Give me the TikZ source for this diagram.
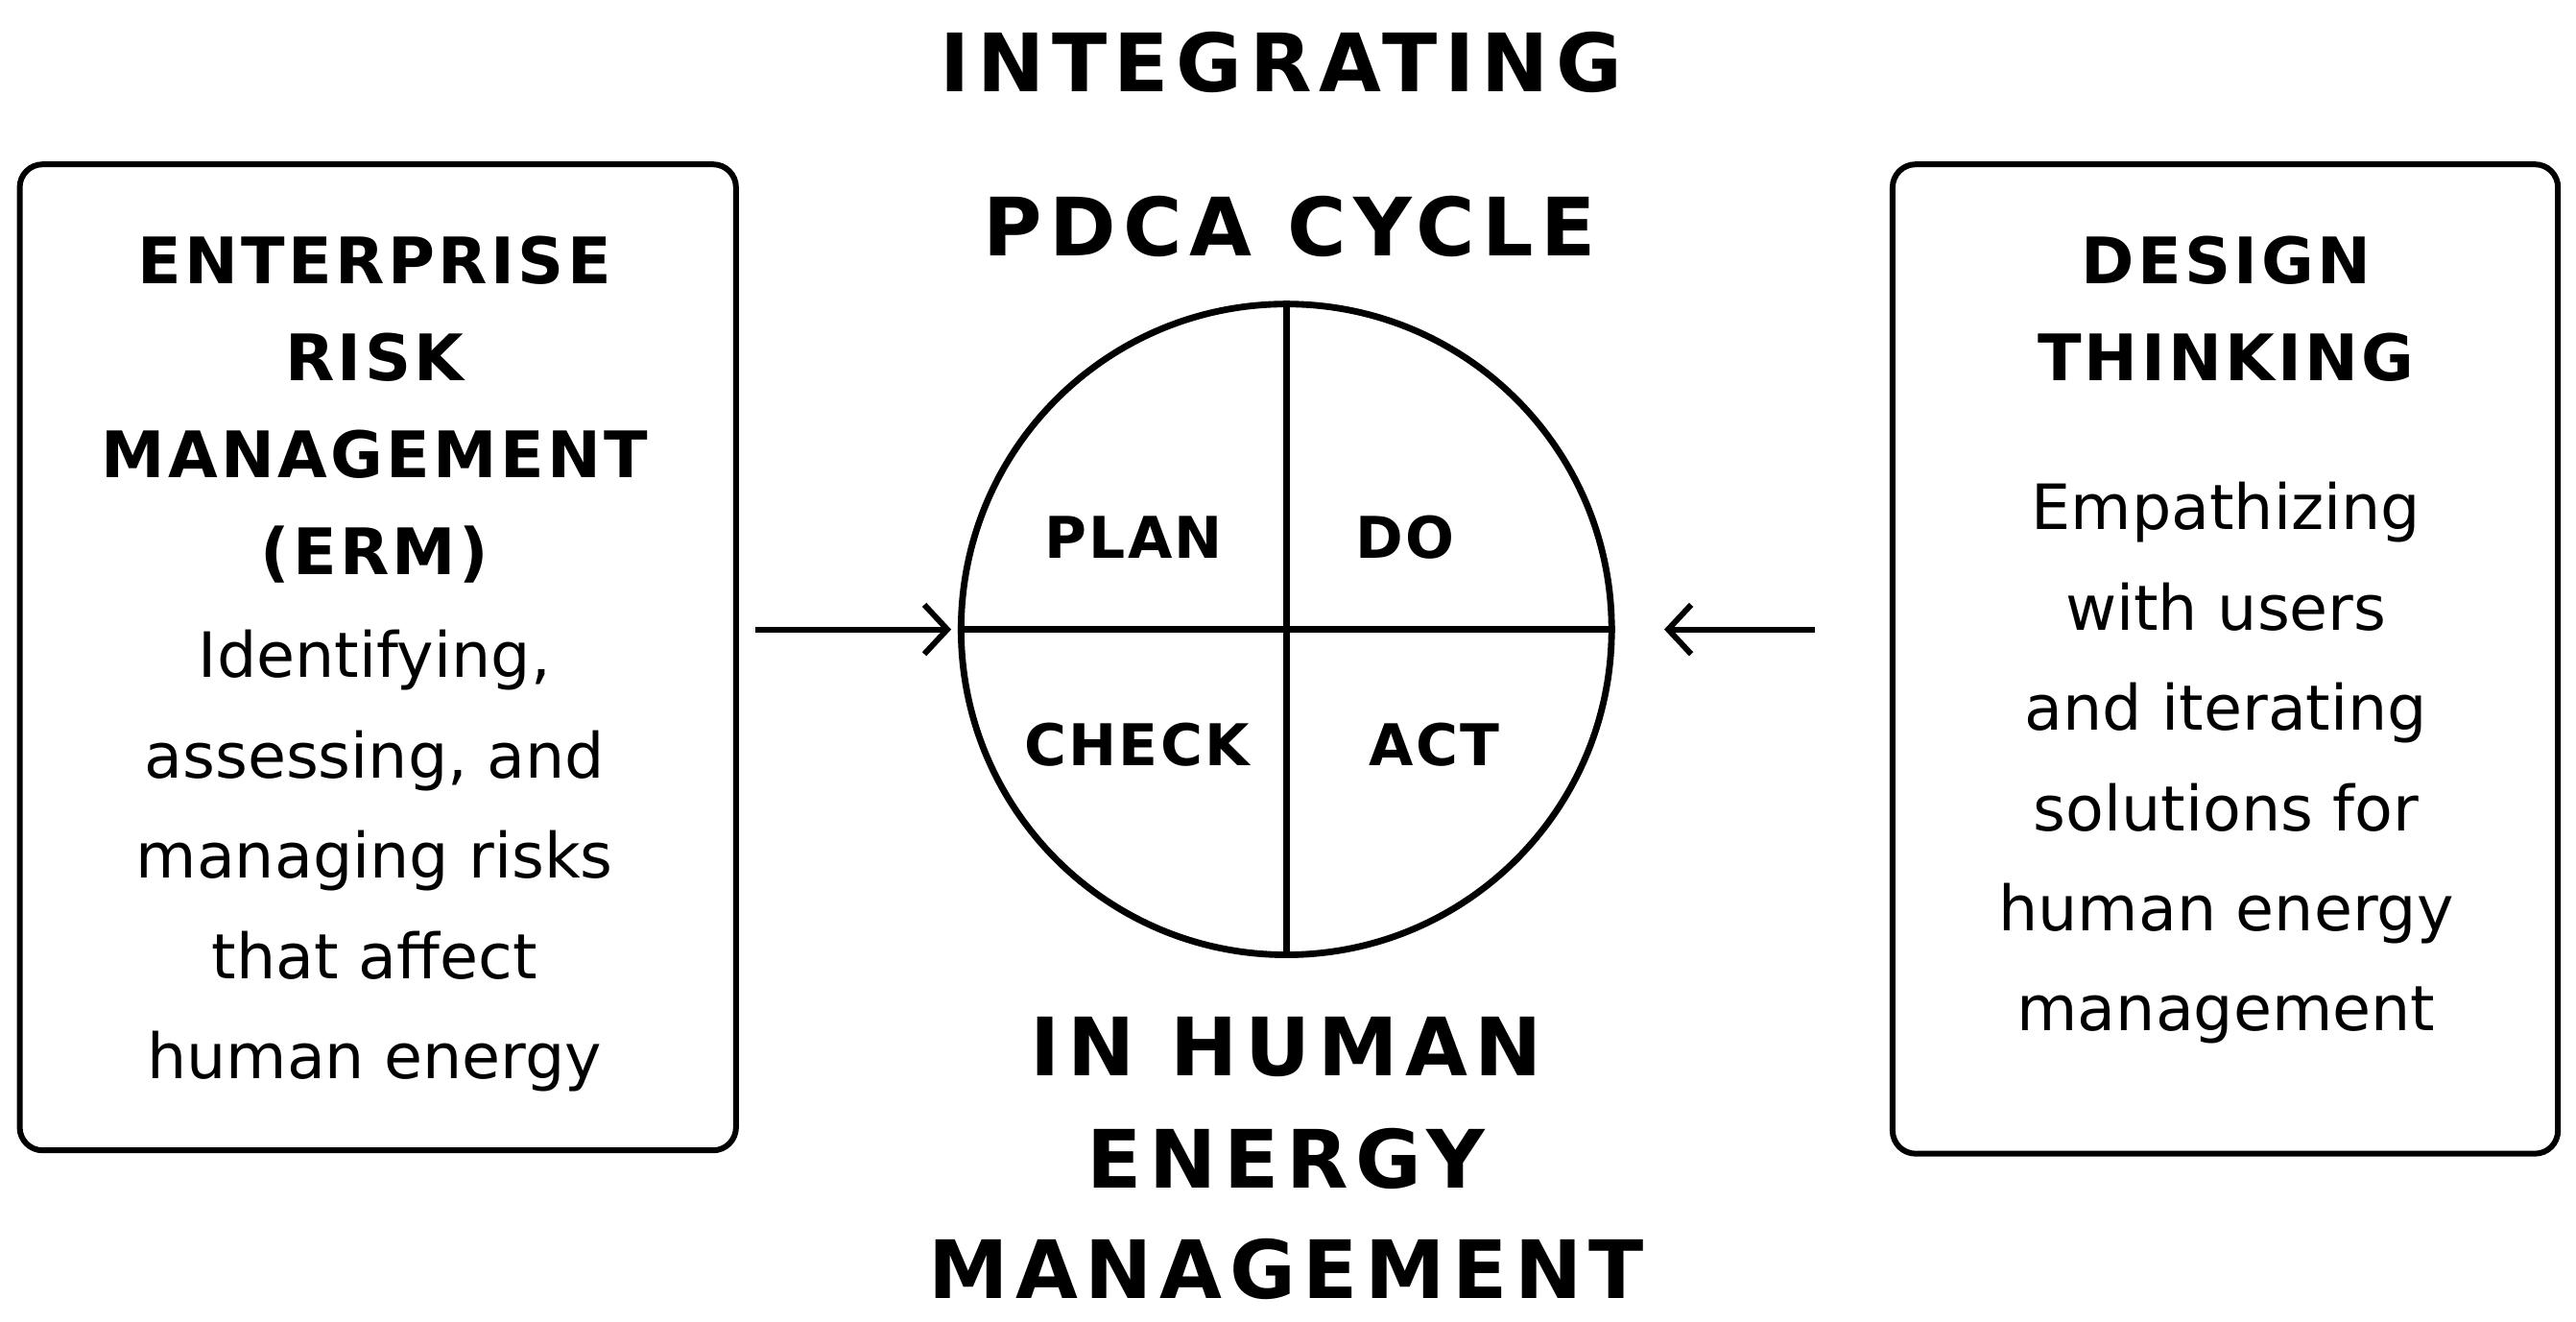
\documentclass[tikz,border=0pt]{standalone}
\usepackage{fontspec}
\setmainfont{DejaVu Sans}
\usetikzlibrary{arrows.meta}
\begin{document}
\begin{tikzpicture}[x=1pt,y=-1pt,
  box/.style={draw,line width=3.5pt,rounded corners=14pt},
  hd/.style={font=\fontsize{49}{60}\selectfont\bfseries\addfontfeatures{LetterSpace=9}},
  bh/.style={font=\fontsize{39}{59}\selectfont\bfseries\addfontfeatures{LetterSpace=5},align=center},
  bt/.style={font=\fontsize{38}{61}\selectfont,align=center},
  q/.style={font=\fontsize{35}{40}\selectfont\bfseries\addfontfeatures{LetterSpace=4}},
  arr/.style={line width=3.5pt,-{Straight Barb[length=14pt,width=30pt,line width=3.5pt]}}]
\useasboundingbox (0,0) rectangle (1568,804);
\node[hd] (t1) at (780,38) {INTEGRATING};
\node[hd] (t2) at (785,138) {PDCA CYCLE};
\node[hd] (b1) at (783,637) {IN HUMAN};
\node[hd] (b2) at (783,705) {ENERGY};
\node[hd] (b3) at (783,772) {MANAGEMENT};
\draw[box] (12,100) rectangle (448,700);
\draw[box] (1152,100) rectangle (1557,702);
\node[bh,anchor=north] (lh) at (228,140) {ENTERPRISE\\RISK\\MANAGEMENT\\(ERM)};
\node[bt,anchor=north] (lt) at (228,380) {Identifying,\\assessing, and\\managing risks\\that affect\\human energy};
\node[bh,anchor=north] (rh) at (1355,140) {DESIGN\\THINKING};
\node[bt,anchor=north] (rt) at (1355,290) {Empathizing\\with users\\and iterating\\solutions for\\human energy\\management};
\node[draw,circle,line width=4pt,minimum size=396pt,inner sep=0] (c) at (783,383) {};
\draw[line width=4pt] (c.north) -- (c.south);
\draw[line width=4pt] (c.west) -- (c.east);
\node[q] (p) at (690,327) {PLAN};
\node[q] (d) at (855,327) {DO};
\node[q] (ch) at (692,453) {CHECK};
\node[q] (a) at (873,453) {ACT};
\coordinate (la) at (460,383);
\coordinate (ra) at (1105,383);
\draw[arr] (la) -- ([xshift=-4pt]c.west);
\draw[arr] (ra) -- ([xshift=30pt]c.east);
\end{tikzpicture}
\end{document}
